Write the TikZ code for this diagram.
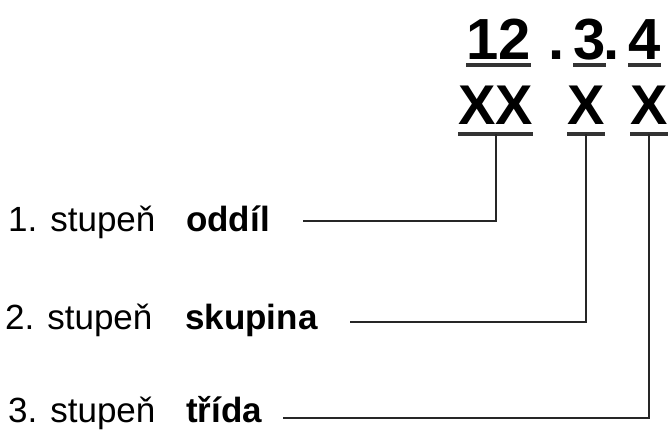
\documentclass[tikz,border=0pt]{standalone}
\usepackage{fontspec}
\setmainfont{Liberation Sans}
\usetikzlibrary{positioning}
\tikzset{
  codenum/.style={font=\bfseries\fontsize{58}{60}\selectfont, inner sep=0pt, anchor=base west},
  codex/.style={font=\bfseries\fontsize{56}{58}\selectfont, inner sep=0pt, anchor=base west},
  level/.style={font=\fontsize{35}{38}\selectfont, inner sep=0pt, anchor=base west},
  term/.style={level, font=\bfseries\fontsize{35}{38}\selectfont},
  uline/.style={line width=3.5pt, black!80},
  link/.style={line width=2pt, black!85}
}
\begin{document}
\begin{tikzpicture}[x=1pt, y=-1pt]
				\useasboundingbox (0,0) rectangle (669,430);
				% code 12.3.4
				\node[codenum] (n12) at (466,60) {12};
				\node[codenum] (dota) at (548,60) {.};
				\node[codenum] (n3) at (573,60) {3};
				\node[codenum] (dotb) at (603,60) {.};
				\node[codenum] (n4) at (628,60) {4};
				% placeholders
				\node[codex] (xx) at (458,125) {XX};
				\node[codex] (xb) at (567,125) {X};
				\node[codex] (xc) at (630,125) {X};
				\foreach \n in {n12,n3,n4} \draw[uline] ([yshift=-5]\n.base west) -- ([yshift=-5]\n.base east);
				\foreach \n in {xx,xb,xc} \draw[uline] ([yshift=-9]\n.base west) -- ([yshift=-9]\n.base east);
				% levels
				\node[level] (la) at (8,232) {1. stupeň};
				\node[term] (ta) at (186,232) {oddíl};
				\node[level] (lb) at (5,329) {2. stupeň};
				\node[term] (tb) at (185,329) {skupina};
				\node[level] (lc) at (8,422) {3. stupeň};
				\node[term] (tc) at (186,422) {třída};
				\coordinate (sa) at (303,221);
				\coordinate (sb) at (350,322);
				\coordinate (sc) at (283,418);
				\draw[link] (sa) -| ([yshift=-9]xx.base);
				\draw[link] (sb) -| ([yshift=-9]xb.base);
				\draw[link] (sc) -| ([yshift=-9]xc.base);
			\end{tikzpicture}
\end{document}
